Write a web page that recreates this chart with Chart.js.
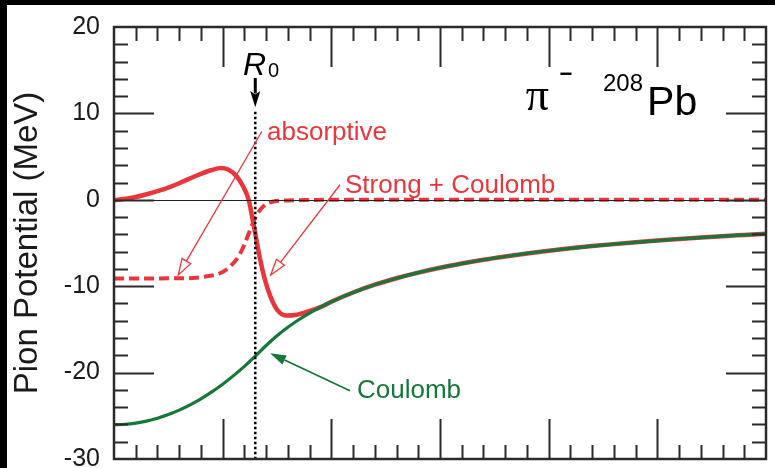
<!DOCTYPE html>
<html>
<head>
<meta charset="utf-8">
<script src="https://cdn.jsdelivr.net/npm/chart.js@4.4.1/dist/chart.umd.min.js"></script>
<style>
  html, body { margin: 0; padding: 0; background: #fff; }
  #plot { display: block; }
</style>
</head>
<body>
<canvas id="plot" width="775" height="468"></canvas>
<script>
// Radial distance r (fm) and pion potentials (MeV) for pi- on 208Pb

// Pure Coulomb potential of a uniformly charged sphere
const coulombR = [0, 0.5, 1, 1.5, 2, 2.5, 3, 3.5, 4, 4.5, 5, 5.5, 6, 6.5, 7, 7.5, 8, 8.5, 9, 9.5,
                  10, 11, 12, 13, 14, 15, 16, 17, 18, 19, 20, 21, 22, 23, 24, 25, 26, 27, 28, 29, 30];
const coulombV = [-26.03, -25.98, -25.84, -25.61, -25.28, -24.86, -24.34, -23.73, -23.03, -22.23,
                  -21.34, -20.35, -19.28, -18.10, -16.86, -15.73, -14.75, -13.88, -13.11, -12.42,
                  -11.80, -10.73, -9.83, -9.08, -8.43, -7.87, -7.38, -6.94, -6.56, -6.21,
                  -5.90, -5.62, -5.36, -5.13, -4.92, -4.72, -4.54, -4.37, -4.21, -4.07, -3.93];

// Real part: strong + Coulomb
const strongR = [0, 0.5, 1, 1.5, 2, 2.5, 3, 3.5, 4, 4.5, 4.9, 5.25, 5.65, 5.95, 6.2, 6.35, 6.5, 6.7,
                 6.95, 7.2, 7.5, 7.95, 8.4, 8.9, 9.5, 10, 11, 12, 13, 14, 15, 16, 17, 18, 19, 20,
                 21, 22, 23, 24, 25, 26, 27, 28, 29, 30];
const strongV = [-0.05, 0.12, 0.32, 0.64, 1.0, 1.42, 1.92, 2.48, 3.0, 3.45, 3.67, 3.5, 2.7, 1.5, 0.0,
                 -1.9, -3.9, -6.6, -9.3, -11.2, -12.7, -13.4, -13.3, -12.95, -12.42, -11.80, -10.73,
                 -9.83, -9.08, -8.43, -7.87, -7.38, -6.94, -6.56, -6.21, -5.90, -5.62, -5.36, -5.13,
                 -4.92, -4.72, -4.54, -4.37, -4.21, -4.07, -3.93];

// Imaginary (absorptive) part
const absorbR = [0, 1, 2, 3, 3.65, 4.42, 4.88, 5.26, 5.72, 6.03, 6.26, 6.57, 6.95, 7.33, 7.95, 9, 10, 20, 30];
const absorbV = [-9.1, -9.1, -9.1, -9.08, -9.05, -8.8, -8.5, -7.9, -6.6, -5.0, -3.5, -1.74, -0.58,
                 -0.2, -0.08, -0.02, 0, 0, 0];

// Nuclear radius marker
const radiusR0 = 6.5;

// Axis ticks
const yTickValues = [-30, -20, -10, 0, 10, 20];
const yTickLabels = ['-30', '-20', '-10', '0', '10', '20'];

const RED = '#e8373c';
const GREEN = '#17763a';
const AXIS = '#2b2b2b';
const SANS = '"Liberation Sans", Arial, Helvetica, sans-serif';

const pairs = (xs, ys) => xs.map((x, i) => ({ x: x, y: ys[i] }));

// Frame, ticks, zero line, R0 marker and labelled arrows
const decorations = {
  id: 'decorations',
  beforeDraw(chart) {
    const ctx = chart.ctx;
    ctx.save();
    ctx.fillStyle = '#ffffff';
    ctx.fillRect(0, 0, chart.width, chart.height);
    ctx.fillStyle = '#000000';
    ctx.fillRect(0, 0, chart.width, 5);
    ctx.fillRect(0, 0, 7, chart.height);
    ctx.restore();
  },
  afterDatasetsDraw(chart) {
    const ctx = chart.ctx;
    const xs = chart.scales.x, ys = chart.scales.y;
    const a = chart.chartArea;
    const px = v => xs.getPixelForValue(v);
    const py = v => ys.getPixelForValue(v);

    ctx.save();

    // zero line
    ctx.strokeStyle = '#222';
    ctx.lineWidth = 1;
    ctx.beginPath();
    ctx.moveTo(a.left, Math.round(py(0)) + 0.5);
    ctx.lineTo(a.right, Math.round(py(0)) + 0.5);
    ctx.stroke();

    // dotted R0 line
    ctx.strokeStyle = '#000';
    ctx.lineWidth = 2.5;
    ctx.setLineDash([2.5, 2.5]);
    ctx.beginPath();
    ctx.moveTo(px(radiusR0), py(10.2));
    ctx.lineTo(px(radiusR0), a.bottom);
    ctx.stroke();
    ctx.setLineDash([]);

    // ticks on all four sides
    ctx.strokeStyle = AXIS;
    ctx.lineWidth = 2;
    ctx.beginPath();
    for (let r = 1; r < 30; r++) {
      const len = (r % 5 === 0) ? 40 : 14;
      const x = Math.round(px(r)) + 0.5;
      ctx.moveTo(x, a.top); ctx.lineTo(x, a.top + len);
      ctx.moveTo(x, a.bottom); ctx.lineTo(x, a.bottom - len);
    }
    for (let v = -28; v < 20; v += 2) {
      const len = (v % 10 === 0) ? 40 : 14;
      const y = Math.round(py(v)) + 0.5;
      ctx.moveTo(a.left, y); ctx.lineTo(a.left + len, y);
      ctx.moveTo(a.right, y); ctx.lineTo(a.right - len, y);
    }
    ctx.stroke();

    // frame
    ctx.lineWidth = 2.5;
    ctx.strokeRect(a.left, a.top, a.right - a.left, a.bottom - a.top);

    // R0 arrow
    const rx = px(radiusR0);
    ctx.strokeStyle = '#000';
    ctx.fillStyle = '#000';
    ctx.lineWidth = 3;
    ctx.beginPath();
    ctx.moveTo(rx, py(14.1));
    ctx.lineTo(rx, py(12.3));
    ctx.stroke();
    ctx.beginPath();
    ctx.moveTo(rx, py(10.7));
    ctx.lineTo(rx - 5, py(12.6));
    ctx.lineTo(rx, py(12.2));
    ctx.lineTo(rx + 5, py(12.6));
    ctx.closePath();
    ctx.fill();

    // arrows: from label to curve
    function arrow(x0, y0, x1, y1, color, open) {
      const X0 = px(x0), Y0 = py(y0), X1 = px(x1), Y1 = py(y1);
      const ang = Math.atan2(Y1 - Y0, X1 - X0);
      const L = 16, W = 5;
      const bx = X1 - L * Math.cos(ang), by = Y1 - L * Math.sin(ang);
      const nx = -Math.sin(ang) * W, ny = Math.cos(ang) * W;
      ctx.strokeStyle = color;
      ctx.lineWidth = open ? 1.3 : 1.8;
      ctx.beginPath();
      ctx.moveTo(X0, Y0);
      ctx.lineTo(bx, by);
      ctx.stroke();
      ctx.beginPath();
      ctx.moveTo(X1, Y1);
      ctx.lineTo(bx + nx, by + ny);
      ctx.lineTo(bx - nx, by - ny);
      ctx.closePath();
      if (open) {
        ctx.fillStyle = '#fff';
        ctx.fill();
        ctx.stroke();
      } else {
        ctx.fillStyle = color;
        ctx.fill();
      }
    }
    arrow(6.8, 7.9, 2.96, -8.7, RED, true);
    arrow(10.4, 1.74, 7.21, -8.7, RED, true);
    arrow(10.86, -22.1, 7.18, -17.76, GREEN, false);

    // labels
    ctx.textBaseline = 'alphabetic';
    ctx.textAlign = 'left';
    ctx.font = '26px ' + SANS;
    ctx.fillStyle = RED;
    ctx.fillText('absorptive', px(7.04), py(6.95));
    ctx.fillText('Strong + Coulomb', px(10.63), py(0.81));
    ctx.fillStyle = GREEN;
    ctx.fillText('Coulomb', px(11.18), py(-22.94));

    ctx.fillStyle = '#000';
    ctx.font = 'italic 32px ' + SANS;
    ctx.fillText('R', px(5.94), py(14.48));
    ctx.font = '20px ' + SANS;
    ctx.fillText('0', px(7.09), py(14.25));

    ctx.font = '46px "Liberation Serif", "Times New Roman", serif';
    ctx.fillText('\u03c0', px(18.95), py(10.43));
    ctx.font = 'bold 22px ' + SANS;
    ctx.fillText('\u2212', px(20.5), py(13.8));
    ctx.font = '24px ' + SANS;
    ctx.fillText('208', px(22.5), py(12.63));
    ctx.font = '41px ' + SANS;
    ctx.fillText('Pb', px(24.53), py(9.85));

    ctx.restore();
  }
};

new Chart(document.getElementById('plot'), {
  type: 'line',
  data: {
    datasets: [
      {
        label: 'Coulomb',
        data: pairs(coulombR, coulombV),
        borderColor: GREEN,
        borderWidth: 3.2,
        pointRadius: 0,
        cubicInterpolationMode: 'monotone',
        order: 0
      },
      {
        label: 'Strong + Coulomb',
        data: pairs(strongR, strongV),
        borderColor: RED,
        borderWidth: 4.5,
        pointRadius: 0,
        cubicInterpolationMode: 'monotone',
        order: 1
      },
      {
        label: 'absorptive',
        data: pairs(absorbR, absorbV),
        borderColor: RED,
        borderWidth: 4,
        borderDash: [10, 5],
        pointRadius: 0,
        cubicInterpolationMode: 'monotone',
        order: 2
      }
    ]
  },
  options: {
    responsive: false,
    animation: false,
    devicePixelRatio: 1,
    layout: { padding: { top: 27, right: 9, bottom: 9, left: 0 } },
    plugins: { legend: { display: false }, tooltip: { enabled: false } },
    scales: {
      x: {
        type: 'linear',
        min: 0,
        max: 30,
        display: false
      },
      y: {
        type: 'linear',
        min: -30,
        max: 20,
        grid: { display: false, drawTicks: false },
        border: { display: false },
        afterBuildTicks(scale) {
          scale.ticks = yTickValues.map(v => ({ value: v }));
        },
        afterFit(scale) {
          scale.width = 114;
          scale.paddingTop = 0;
          scale.paddingBottom = 0;
        },
        ticks: {
          padding: 14,
          color: '#1a1a1a',
          font: { family: SANS, size: 25 },
          callback: (value) => yTickLabels[yTickValues.indexOf(value)]
        },
        title: {
          display: true,
          text: 'Pion Potential (MeV)',
          color: '#1a1a1a',
          font: { family: SANS, size: 33 },
          padding: { top: 8, bottom: 0 }
        }
      }
    }
  },
  plugins: [decorations]
});
</script>
</body>
</html>
